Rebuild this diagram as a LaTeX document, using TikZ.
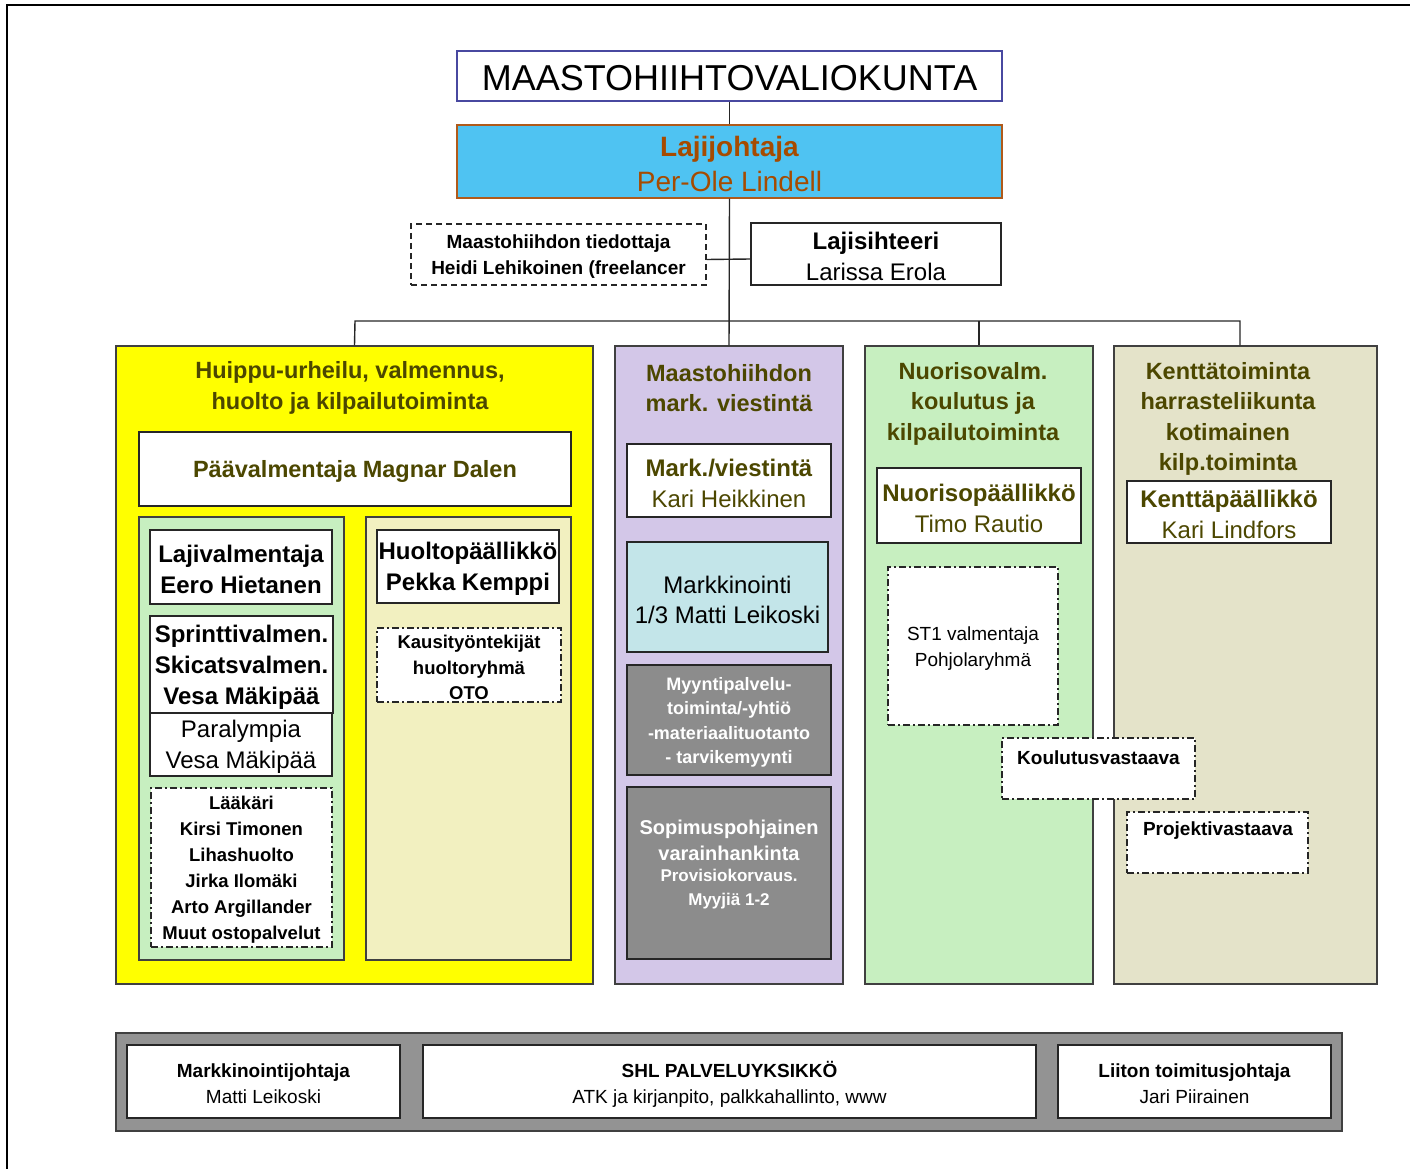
\documentclass[tikz,border=0pt]{standalone}
\usepackage{fontspec}
\setmainfont{Liberation Sans}
\definecolor{olv}{HTML}{4C4700}
\definecolor{brn}{HTML}{A64B00}
\definecolor{brnline}{HTML}{B05A1A}
\definecolor{skyb}{HTML}{4FC3F2}
\definecolor{ttl}{HTML}{4848A0}
\definecolor{ylw}{HTML}{FFFF00}
\definecolor{lav}{HTML}{D3C7E8}
\definecolor{grn}{HTML}{C7EFC0}
\definecolor{bge}{HTML}{E4E3C9}
\definecolor{ibge}{HTML}{F2F0C0}
\definecolor{cyn}{HTML}{C3E5E9}
\definecolor{gry}{HTML}{8C8C8C}
\definecolor{bar}{HTML}{939393}
\newcommand{\fz}[2]{\fontsize{#1pt}{#2pt}\selectfont}
% options, name, x1, y1, x2, y2, text
\newcommand{\bx}[7]{%
  \node[#1, minimum width={(#5)-(#3)}, minimum height={(#6)-(#4)}] (#2) at ({((#3)+(#5))/2},{((#4)+(#6))/2}) {};%
  \node[#1, draw=none, fill=none, minimum width=0pt, minimum height=0pt, yshift=-2.5pt] (#2-t) at (#2.center) {#7};}
\begin{document}
\begin{tikzpicture}[x=1pt,y=-1pt,
  box/.style={draw=black!85, line width=1.4pt, fill=white, inner sep=0pt, align=center},
  col/.style={draw=black!75, line width=1.4pt, inner sep=0pt},
  dbox/.style={box, dash pattern=on 6pt off 4pt},
  ddbox/.style={box, dash pattern=on 7pt off 3pt on 2pt off 3pt},
  txt/.style={inner sep=0pt, align=center},
  head/.style={txt, text=olv, font=\bfseries\fz{23.5}{30.5}},
  conn/.style={draw=black!85, line width=1.4pt}]
\useasboundingbox (0,0) rectangle (1410,1169);
\draw[line width=2pt] (7,1169) -- (7,5) -- (1410,5);

% top
\bx{box, draw=ttl, font=\fz{36}{40}}{title}{457}{51}{1002}{101}{MAASTOHIIHTOVALIOKUNTA}
\bx{box, draw=brnline, fill=skyb, text=brn, font=\fz{28}{35}}{laji}{457}{125}{1002}{198}{\textbf{Lajijohtaja}\\Per-Ole Lindell}
\bx{dbox, font=\bfseries\fz{19}{26}}{tied}{411}{224}{706}{285}{Maastohiihdon tiedottaja\\Heidi Lehikoinen (freelancer}
\bx{box, font=\fz{24}{31}}{siht}{751}{223}{1001}{285}{\textbf{Lajisihteeri}\\Larissa Erola}

% columns
\bx{col, fill=ylw}{col1}{116}{346}{593}{984}{}
\bx{col, fill=lav}{col2}{615}{346}{843}{984}{}
\bx{col, fill=grn}{col3}{865}{346}{1093}{984}{}
\bx{col, fill=bge}{col4}{1114}{346}{1377}{984}{}

% connectors
\coordinate (busL) at (355,321);
\coordinate (busR) at (1240,321);
\draw[conn] (title.south) -- (laji.north);
\draw[conn] (laji.south) -- (col2.north);
\draw[conn] ([yshift=-5pt]tied.east) -- ([yshift=-5pt]siht.west);
\draw[conn] (col1.north) -- (busL) -- (busR) -- ([xshift=-5.5pt]col4.north);
\draw[conn] (col3.north) -- (col3.north |- busL);

% column 1
\node[head] (h1) at (350,388) {Huippu-urheilu, valmennus,\\huolto ja kilpailutoiminta};
\bx{box, text=olv, font=\bfseries\fz{23.5}{30}}{paav}{139}{432}{571}{506}{Päävalmentaja Magnar Dalen}
\bx{col, fill=grn}{g1}{139}{517}{344}{960}{}
\bx{col, fill=ibge}{b1}{366}{517}{571}{960}{}
\bx{box, font=\bfseries\fz{24}{31}}{lajiv}{150}{530}{332}{604}{Lajivalmentaja\\Eero Hietanen}
\bx{box, font=\bfseries\fz{24}{31}}{sprint}{150}{616}{333}{713}{Sprinttivalmen.\\Skicatsvalmen.\\Vesa Mäkipää}
\bx{box, font=\fz{24}{31}}{para}{150}{713}{332}{776}{Paralympia\\Vesa Mäkipää}
\bx{ddbox, font=\bfseries\fz{18.5}{26}}{laak}{151}{788}{332}{947}{Lääkäri\\Kirsi Timonen\\Lihashuolto\\Jirka Ilomäki\\Arto Argillander\\Muut ostopalvelut}
\bx{box, font=\bfseries\fz{24}{31}}{huolto}{377}{530}{559}{603}{Huoltopäällikkö\\Pekka Kemppi}
\bx{ddbox, font=\bfseries\fz{18.5}{25.5}}{kausi}{377}{628}{561}{702}{Kausityöntekijät\\huoltoryhmä\\OTO}

% column 2
\node[head] (h2) at (729,388) {Maastohiihdon\\mark. viestintä};
\bx{box, text=olv, font=\fz{24}{31}}{mark}{627}{444}{831}{517}{\textbf{Mark./viestintä}\\Kari Heikkinen}
\bx{box, fill=cyn, font=\fz{24}{30}}{markk}{627}{542}{828}{652}{Markkinointi\\1/3 Matti Leikoski}
\bx{box, fill=gry, text=white, font=\bfseries\fz{18}{24.5}}{myynti}{627}{665}{831}{775}{Myyntipalvelu-\\toiminta/-yhtiö\\-materiaalituotanto\\- tarvikemyynti}
\bx{box, fill=gry}{sopim}{627}{787}{831}{959}{}
\node[txt, text=white, font=\bfseries\fz{20}{26}] (sop1) at (729,840) {Sopimuspohjainen\\varainhankinta};
\node[txt, text=white, font=\bfseries\fz{17}{24}] (sop2) at (729,889) {Provisiokorvaus.\\Myyjiä 1-2};

% column 3
\node[head] (h3) at (973,403.5) {Nuorisovalm.\\koulutus ja\\kilpailutoiminta};
\bx{box, text=olv, font=\fz{24}{31}}{nuor}{877}{468}{1081}{543}{\textbf{Nuorisopäällikkö}\\Timo Rautio}
\bx{ddbox, font=\fz{19}{26}}{st1}{888}{567}{1058}{725}{ST1 valmentaja\\Pohjolaryhmä}

% column 4
\node[head] (h4) at (1228,419) {Kenttätoiminta\\harrasteliikunta\\kotimainen\\kilp.toiminta};
\bx{box, text=olv, font=\fz{24}{31}}{kent}{1127}{481}{1331}{543}{\textbf{Kenttäpäällikkö}\\Kari Lindfors}
\bx{ddbox}{proj}{1127}{812}{1308}{873}{}
\node[txt, font=\bfseries\fz{19}{24}] (projt) at (1218,831) {Projektivastaava};
\bx{ddbox}{koul}{1002}{738}{1195}{799}{}
\node[txt, font=\bfseries\fz{19}{24}] (koult) at (1098.5,758) {Koulutusvastaava};

% bottom
\bx{col, fill=bar}{barbox}{116}{1033}{1342}{1131}{}
\bx{box, line width=1.8pt, font=\fz{19}{26}}{mj}{127}{1045}{400}{1118}{\textbf{Markkinointijohtaja}\\Matti Leikoski}
\bx{box, line width=1.8pt, font=\fz{19}{26}}{shl}{423}{1045}{1036}{1118}{\textbf{SHL PALVELUYKSIKKÖ}\\ATK ja kirjanpito, palkkahallinto, www}
\bx{box, line width=1.8pt, font=\fz{19}{26}}{liit}{1058}{1045}{1331}{1118}{\textbf{Liiton toimitusjohtaja}\\Jari Piirainen}
\end{tikzpicture}
\end{document}
